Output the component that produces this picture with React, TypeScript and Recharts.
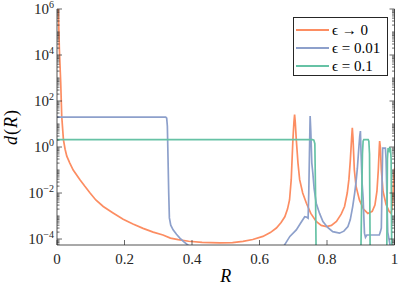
import { LineChart, Line, XAxis, YAxis, Legend, Label } from 'recharts'

const FONT = "'Liberation Serif', 'DejaVu Serif', serif"
const AXIS = '#262626'

// eps -> 0
const rZero = [0, 0.002, 0.004, 0.007, 0.011, 0.014, 0.019, 0.024, 0.029, 0.038, 0.048, 0.068, 0.082, 0.098, 0.115, 0.137, 0.165, 0.196, 0.225, 0.255, 0.285, 0.314, 0.336, 0.359, 0.39, 0.43, 0.482, 0.52, 0.551, 0.58, 0.61, 0.632, 0.65, 0.664, 0.675, 0.683, 0.689, 0.694, 0.699, 0.702, 0.704, 0.706, 0.709, 0.714, 0.719, 0.728, 0.739, 0.752, 0.768, 0.783, 0.798, 0.813, 0.828, 0.842, 0.852, 0.86, 0.865, 0.869, 0.873, 0.875, 0.877, 0.881, 0.886, 0.896, 0.908, 0.921, 0.934, 0.942, 0.948, 0.952, 0.955, 0.956, 0.958, 0.961, 0.966, 0.975, 0.984, 0.99, 0.994, 0.997, 1]
const dZero = [1e9, 1e8, 1e6, 1.8e4, 630, 22, 2.1, 0.8, 0.4, 0.2, 0.1, 0.038, 0.02, 0.01, 5e-3, 2.6e-3, 1.4e-3, 7.2e-4, 4.5e-4, 2.9e-4, 2e-4, 1.5e-4, 1.1e-4, 9.5e-5, 8e-5, 7.2e-5, 6.8e-5, 7e-5, 7.9e-5, 9.5e-5, 1.3e-4, 1.9e-4, 3e-4, 5.2e-4, 9.3e-4, 2e-3, 5e-3, 0.038, 2.1, 12, 26, 12, 2.1, 0.2, 0.038, 0.01, 3.6e-3, 1.3e-3, 5.8e-4, 3.9e-4, 3.5e-4, 3.9e-4, 5.8e-4, 1.2e-3, 2.6e-3, 0.01, 0.04, 0.25, 2.5, 6.8, 2.5, 0.1, 0.02, 5e-3, 2e-3, 1.3e-3, 1.6e-3, 3e-3, 0.012, 0.1, 1.0, 1.8, 1.0, 0.1, 0.012, 3.2e-3, 1.6e-3, 1.3e-3, 3e-3, 0.03, 0.12]

// eps = 0.01
const rSmall = [0, 0.322, 0.325, 0.327, 0.329, 0.331, 0.333, 0.337, 0.344, 0.354, 0.364, 0.376, 0.388, 0.398, 0.66, 0.674, 0.69, 0.709, 0.722, 0.734, 0.739, 0.744, 0.746, 0.748, 0.75, 0.752, 0.755, 0.758, 0.762, 0.768, 0.778, 0.788, 0.802, 0.817, 0.837, 0.85, 0.862, 0.869, 0.876, 0.882, 0.886, 0.89, 0.894, 0.897, 0.899, 0.901, 0.904, 0.907, 0.911, 0.914, 0.918, 0.93, 0.945, 0.955, 0.958, 0.961, 0.963, 0.965, 0.973, 0.975, 0.98, 0.99, 1]
const dSmall = [20, 20, 18, 8, 0.3, 0.01, 8.3e-4, 4e-4, 2.5e-4, 1.6e-4, 1.1e-4, 7.5e-5, 5.5e-5, 3e-5, 1e-5, 5.5e-5, 1.3e-4, 2.5e-4, 5e-4, 9.3e-4, 9e-4, 8e-4, 0.01, 0.5, 22, 5, 0.2, 0.074, 0.015, 3.6e-3, 1.3e-3, 5.8e-4, 3.2e-4, 2.1e-4, 1.8e-4, 2.2e-4, 3.5e-4, 7e-4, 2.5e-3, 0.01, 0.03, 0.12, 0.8, 3, 4.9, 0.5, 0.027, 6e-3, 1.8e-4, 1.2e-4, 1.5e-4, 1.5e-4, 1.5e-4, 1.5e-4, 2e-4, 3e-4, 0.02, 0.9, 0.9, 0.3, 2e-4, 3e-5, 1e-5]

// eps = 0.1
const rLarge = [0, 0.757, 0.761, 0.764, 0.766, 0.768, 0.9, 0.902, 0.905, 0.907, 0.909, 0.922, 0.924, 0.926, 0.928, 0.977, 0.979, 0.981, 0.984, 0.986, 0.988, 0.99, 0.992, 1]
const dLarge = [2.1, 2.1, 2.0, 1.4, 0.01, 1e-5, 1e-5, 1e-3, 0.5, 1.8, 2.1, 2.1, 1.8, 0.5, 1e-5, 1e-5, 0.3, 0.9, 0.7, 0.9, 0.85, 0.3, 1e-5, 1e-5]

const seriesNames = ['ϵ → 0', 'ϵ = 0.01', 'ϵ = 0.1']
const seriesColors = ['#fc8d62', '#8da0cb', '#66c2a5']

const xTicks = [0, 0.2, 0.4, 0.6, 0.8, 1]
const xTickLabels = ['0', '0.2', '0.4', '0.6', '0.8', '1']
const yLabelExps = [-4, -2, 0, 2, 4, 6]
const yDomain = [5.5e-5, 1e6]

const zip = (r: number[], d: number[]) => r.map((v, i) => ({ r: v, d: d[i] }))
const zeroData = zip(rZero, dZero)
const smallData = zip(rSmall, dSmall)
const largeData = zip(rLarge, dLarge)

// log minor ticks, 1..9 x 10^n inside the domain
const yTicks: number[] = []
for (let e = -5; e <= 6; e++) {
  for (let k = 1; k <= 9; k++) {
    const v = k * 10 ** e
    if (v >= yDomain[0] && v <= yDomain[1] * 1.0001) yTicks.push(v)
  }
}

const labelExp = (v: number) => {
  const e = Math.round(Math.log10(v))
  return Math.abs(v / 10 ** e - 1) < 1e-6 && yLabelExps.includes(e) ? e : null
}

function LeftTick({ x, y, payload }: any) {
  const e = labelExp(payload.value)
  return (
    <g>
      <line x1={x} x2={x + (e !== null ? 5 : 2.5)} y1={y} y2={y} stroke={AXIS} strokeWidth={0.7} />
      {e !== null && (
        <text x={x - 3} y={y + 5} textAnchor="end" fontFamily={FONT} fontSize={15} fill={AXIS}>
          <tspan>10</tspan>
          <tspan dy={-6} fontSize={10}>{e < 0 ? '\u2212' + -e : String(e)}</tspan>
        </text>
      )}
    </g>
  )
}

function RightTick({ x, y, payload }: any) {
  const e = labelExp(payload.value)
  return <line x1={x} x2={x - (e !== null ? 5 : 2.5)} y1={y} y2={y} stroke={AXIS} strokeWidth={0.7} />
}

function BottomTick({ x, y, payload, index }: any) {
  return (
    <g>
      <line x1={x} x2={x} y1={y} y2={y - 5} stroke={AXIS} strokeWidth={0.7} />
      <text x={x} y={y + 19} textAnchor="middle" fontFamily={FONT} fontSize={15} fill={AXIS}>
        {xTickLabels[index] ?? String(payload.value)}
      </text>
    </g>
  )
}

function TopTick({ x, y }: any) {
  return <line x1={x} x2={x} y1={y} y2={y + 5} stroke={AXIS} strokeWidth={0.7} />
}

function LegendBox({ payload }: any) {
  const items = [...(payload || [])].sort(
    (a: any, b: any) => seriesNames.indexOf(a.value) - seriesNames.indexOf(b.value)
  )
  return (
    <div
      style={{
        border: `0.8px solid ${AXIS}`,
        background: '#fff',
        width: 95,
        height: 59,
        boxSizing: 'border-box',
        padding: '3px 0 0 2px',
        fontFamily: FONT,
        fontSize: 15,
        color: '#000',
        lineHeight: 1,
      }}
    >
      {items.map((p: any) => (
        <div key={p.value} style={{ display: 'flex', alignItems: 'center', height: 18 }}>
          <svg width={33} height={4} style={{ display: 'block' }}>
            <line x1={0} x2={33} y1={2} y2={2} stroke={p.color} strokeWidth={1.8} />
          </svg>
          <span style={{ marginLeft: 3, whiteSpace: 'nowrap' }}>{p.value}</span>
        </div>
      ))}
    </div>
  )
}

export default function App() {
  const axisLine = { stroke: AXIS, strokeWidth: 0.8 }
  return (
    <div style={{ width: 399, height: 285, background: '#fff' }}>
      <style>{'body{margin:0}'}</style>
      <LineChart width={399} height={285} margin={{ top: 9, right: 0, bottom: 0, left: 0 }}>
        <XAxis
          dataKey="r"
          type="number"
          domain={[0, 1]}
          ticks={xTicks}
          interval={0}
          allowDataOverflow
          height={40}
          tickSize={0}
          tickMargin={0}
          axisLine={axisLine}
          tickLine={false}
          tick={<BottomTick />}
        >
          <Label
            content={() => (
              <text x={225.75} y={281.5} textAnchor="middle" fontFamily={FONT} fontSize={18} fontStyle="italic" fill="#000">
                R
              </text>
            )}
          />
        </XAxis>
        <XAxis
          xAxisId="top"
          orientation="top"
          dataKey="r"
          type="number"
          domain={[0, 1]}
          ticks={xTicks}
          interval={0}
          allowDataOverflow
          height={0}
          tickSize={0}
          tickMargin={0}
          axisLine={axisLine}
          tickLine={false}
          tick={<TopTick />}
        />
        <YAxis
          type="number"
          scale="log"
          domain={yDomain}
          ticks={yTicks}
          interval={0}
          allowDataOverflow
          width={57}
          tickSize={0}
          tickMargin={0}
          axisLine={axisLine}
          tickLine={false}
          tick={<LeftTick />}
        >
          <Label
            content={() => (
              <text
                x={17}
                y={127}
                transform="rotate(-90, 17, 127)"
                textAnchor="middle"
                fontFamily={FONT}
                fontSize={18}
                fill="#000"
                letterSpacing={1}
              >
                <tspan fontStyle="italic">d</tspan>
                <tspan>(</tspan>
                <tspan fontStyle="italic">R</tspan>
                <tspan>)</tspan>
              </text>
            )}
          />
        </YAxis>
        <YAxis
          yAxisId="right"
          orientation="right"
          type="number"
          scale="log"
          domain={yDomain}
          ticks={yTicks}
          interval={0}
          allowDataOverflow
          width={4.5}
          tickSize={0}
          tickMargin={0}
          axisLine={axisLine}
          tickLine={false}
          tick={<RightTick />}
        />
        <Legend
          content={<LegendBox />}
          layout="horizontal"
          verticalAlign="middle"
          align="center"
          wrapperStyle={{ left: 293, top: 17, width: 95, height: 59 }}
        />
        <Line data={zeroData} dataKey="d" name={seriesNames[0]} type="linear" stroke={seriesColors[0]} strokeWidth={1.7} dot={false} isAnimationActive={false} />
        <Line data={smallData} dataKey="d" name={seriesNames[1]} type="linear" stroke={seriesColors[1]} strokeWidth={1.7} dot={false} isAnimationActive={false} />
        <Line data={largeData} dataKey="d" name={seriesNames[2]} type="linear" stroke={seriesColors[2]} strokeWidth={1.7} dot={false} isAnimationActive={false} />
      </LineChart>
    </div>
  )
}
